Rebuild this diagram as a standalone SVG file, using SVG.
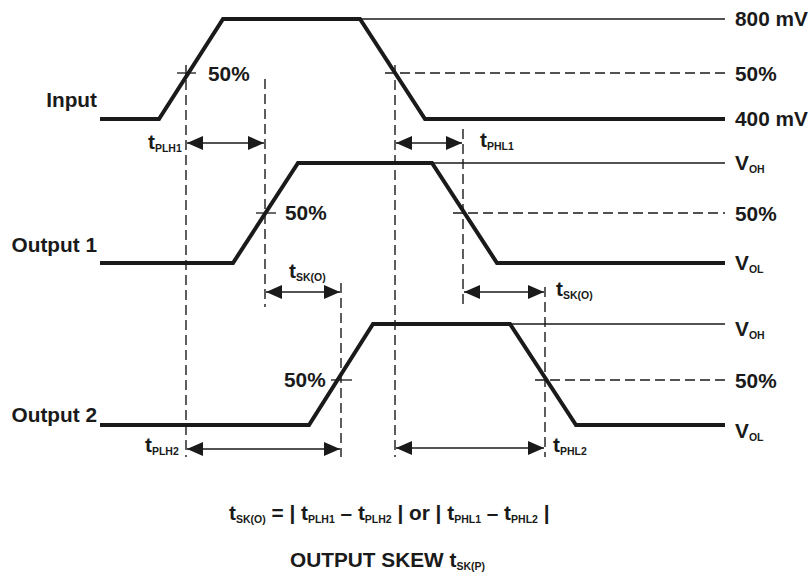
<svg xmlns="http://www.w3.org/2000/svg" width="811" height="578" viewBox="0 0 811 578">
<style>
.wave{fill:none;stroke:#1a1a1a;stroke-width:4;stroke-linejoin:miter}
.ref{fill:none;stroke:#1a1a1a;stroke-width:1.3}
.dash{fill:none;stroke:#1a1a1a;stroke-width:1.4;stroke-dasharray:10 5}
.tick{fill:none;stroke:#1a1a1a;stroke-width:1.3}
.dim{fill:none;stroke:#1a1a1a;stroke-width:1.5;marker-start:url(#ah);marker-end:url(#ah)}
text{font-family:"Liberation Sans",Arial,sans-serif;font-weight:bold;fill:#1a1a1a;font-size:20.8px}
.sub{font-size:10.5px}
</style>
<defs>
<marker id="ah" viewBox="0 0 16 14" refX="16" refY="7" markerWidth="16" markerHeight="14" markerUnits="userSpaceOnUse" orient="auto-start-reverse">
<path d="M0,0 L16,7 L0,14 z" fill="#1a1a1a"/>
</marker>
</defs>
<rect width="811" height="578" fill="#fff"/>

<g id="reference-lines">
<line class="ref" x1="360" y1="19" x2="725" y2="19"/>
<line class="ref" x1="432" y1="163" x2="725" y2="163"/>
<line class="ref" x1="510" y1="324" x2="725" y2="324"/>
<line class="dash" x1="385" y1="73" x2="725" y2="73"/>
<line class="dash" x1="453" y1="213" x2="725" y2="213"/>
<line class="dash" x1="535" y1="380" x2="725" y2="380"/>
<line class="tick" x1="177" y1="73" x2="196" y2="73"/>
<line class="tick" x1="256" y1="213" x2="276" y2="213"/>
<line class="tick" x1="331" y1="380" x2="352" y2="380"/>
</g>

<g id="input-wave">
<polyline class="wave" points="100,119 159,119 223,19 360,19 425,119 725,119"/>
</g>
<g id="output1-wave">
<polyline class="wave" points="100,263 233,263 298,163 432,163 497,263 725,263"/>
</g>
<g id="output2-wave">
<polyline class="wave" points="100,425 309,425 373,324 510,324 576,425 725,425"/>
</g>

<g id="connectors">
<line class="dash" x1="186" y1="65" x2="186" y2="457"/>
<line class="dash" x1="265" y1="79" x2="265" y2="307"/>
<line class="dash" x1="395" y1="65" x2="395" y2="457"/>
<line class="dash" x1="463" y1="129" x2="463" y2="307"/>
<line class="dash" x1="341" y1="283" x2="341" y2="457"/>
<line class="dash" x1="545" y1="287" x2="545" y2="457"/>
<line class="dim" x1="187" y1="143" x2="264" y2="143"/>
<line class="dim" x1="396" y1="143" x2="462" y2="143"/>
<line class="dim" x1="266" y1="292" x2="340" y2="292"/>
<line class="dim" x1="464" y1="292" x2="544" y2="292"/>
<line class="dim" x1="187" y1="449" x2="340" y2="449"/>
<line class="dim" x1="396" y1="448" x2="544" y2="448"/>
</g>

<g id="labels-left">
<text x="97" y="107" text-anchor="end">Input</text>
<text x="97" y="252" text-anchor="end">Output 1</text>
<text x="97" y="422" text-anchor="end">Output 2</text>
</g>

<g id="labels-right">
<text x="735" y="26">800 mV</text>
<text x="735" y="81">50%</text>
<text x="735" y="126">400 mV</text>
<text x="735" y="170">V<tspan class="sub" dy="3">OH</tspan></text>
<text x="735" y="221">50%</text>
<text x="735" y="270">V<tspan class="sub" dy="3">OL</tspan></text>
<text x="735" y="336">V<tspan class="sub" dy="3">OH</tspan></text>
<text x="735" y="388">50%</text>
<text x="735" y="438">V<tspan class="sub" dy="3">OL</tspan></text>
</g>

<g id="labels-50">
<text x="208" y="81">50%</text>
<text x="285" y="220">50%</text>
<text x="284" y="387">50%</text>
</g>

<g id="labels-timing">
<text x="148" y="149">t<tspan class="sub" dy="3">PLH1</tspan></text>
<text x="480" y="147">t<tspan class="sub" dy="3">PHL1</tspan></text>
<text x="289" y="278">t<tspan class="sub" dy="3">SK(O)</tspan></text>
<text x="556" y="296">t<tspan class="sub" dy="3">SK(O)</tspan></text>
<text x="145" y="452">t<tspan class="sub" dy="3">PLH2</tspan></text>
<text x="553" y="452">t<tspan class="sub" dy="3">PHL2</tspan></text>
</g>

<g id="formula">
<text x="229" y="520">t<tspan class="sub" dy="3">SK(O)</tspan><tspan dy="-3"> = | t</tspan><tspan class="sub" dy="3">PLH1</tspan><tspan dy="-3"> – t</tspan><tspan class="sub" dy="3">PLH2</tspan><tspan dy="-3"> | or | t</tspan><tspan class="sub" dy="3">PHL1</tspan><tspan dy="-3"> – t</tspan><tspan class="sub" dy="3">PHL2</tspan><tspan dy="-3"> |</tspan></text>
<text x="290" y="567">OUTPUT SKEW t<tspan class="sub" dy="3">SK(P)</tspan></text>
</g>
</svg>
